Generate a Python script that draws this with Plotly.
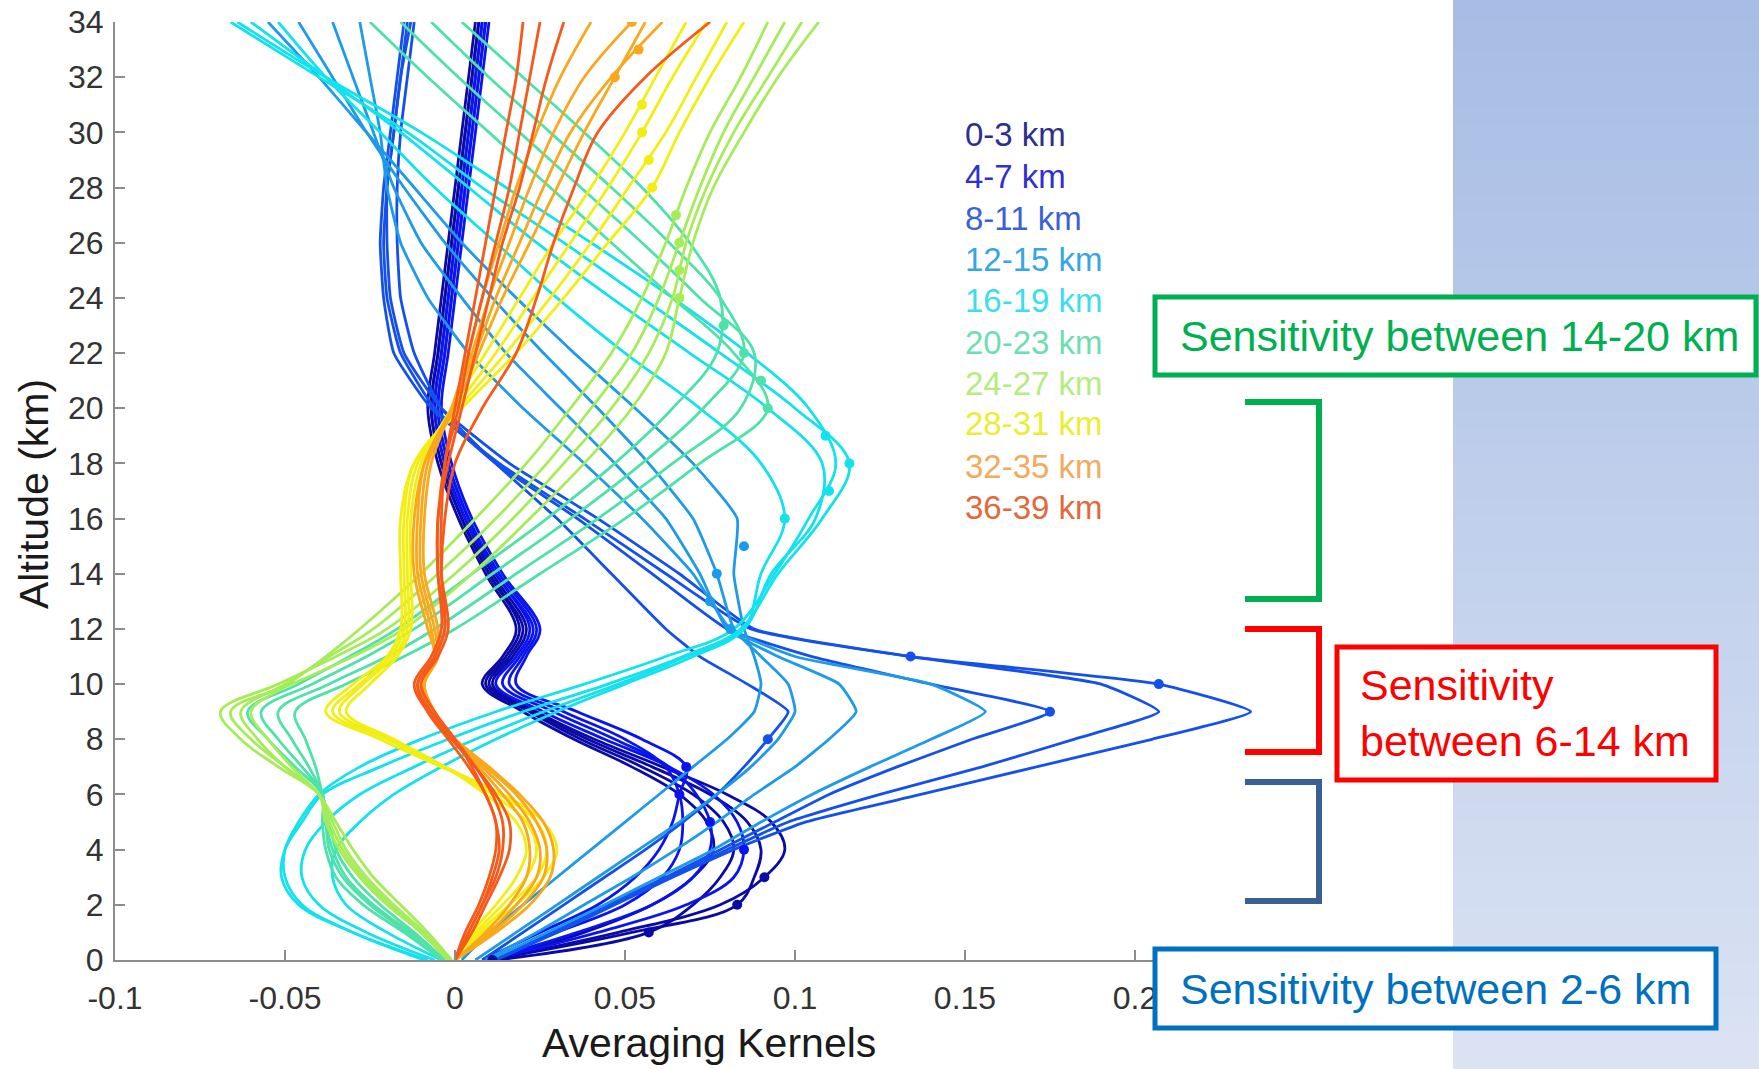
import plotly.graph_objects as go

# ---------------- data ----------------
ALT = [0, 1, 2, 3, 4, 5, 6, 7, 8, 9, 10, 11, 12, 14, 16, 18, 20, 22, 24, 26, 28, 30, 32, 34]

ak_00 = [0.011, 0.038, 0.058, 0.070, 0.076, 0.074, 0.066, 0.052, 0.035, 0.020, 0.008, 0.014, 0.018, 0.009, 0.001, -0.005, -0.008, -0.006, -0.004, -0.002, 0.000, 0.002, 0.004, 0.006]
ak_01 = [0.012, 0.057, 0.070, 0.078, 0.082, 0.079, 0.070, 0.055, 0.037, 0.022, 0.009, 0.015, 0.019, 0.010, 0.002, -0.004, -0.007, -0.005, -0.003, -0.001, 0.001, 0.003, 0.005, 0.007]
ak_02 = [0.010, 0.052, 0.083, 0.088, 0.090, 0.086, 0.075, 0.058, 0.039, 0.023, 0.010, 0.016, 0.020, 0.010, 0.002, -0.004, -0.007, -0.005, -0.003, -0.001, 0.001, 0.003, 0.005, 0.007]
ak_03 = [0.010, 0.048, 0.078, 0.091, 0.097, 0.093, 0.080, 0.061, 0.041, 0.024, 0.011, 0.017, 0.021, 0.011, 0.003, -0.003, -0.006, -0.004, -0.002, 0.000, 0.002, 0.004, 0.006, 0.008]
ak_04 = [0.010, 0.042, 0.068, 0.082, 0.085, 0.083, 0.076, 0.063, 0.044, 0.026, 0.012, 0.018, 0.022, 0.012, 0.003, -0.003, -0.006, -0.004, -0.002, 0.000, 0.002, 0.004, 0.006, 0.008]
ak_05 = [0.009, 0.036, 0.058, 0.070, 0.075, 0.075, 0.071, 0.063, 0.047, 0.029, 0.014, 0.019, 0.023, 0.012, 0.004, -0.002, -0.005, -0.003, -0.001, 0.001, 0.003, 0.005, 0.007, 0.009]
ak_06 = [0.009, 0.030, 0.050, 0.061, 0.066, 0.067, 0.066, 0.062, 0.050, 0.032, 0.016, 0.020, 0.024, 0.013, 0.004, -0.002, -0.005, -0.003, -0.001, 0.001, 0.003, 0.005, 0.007, 0.009]
ak_07 = [0.008, 0.025, 0.042, 0.053, 0.060, 0.064, 0.066, 0.068, 0.055, 0.036, 0.018, 0.021, 0.025, 0.014, 0.005, -0.001, -0.004, -0.002, 0.000, 0.002, 0.004, 0.006, 0.008, 0.010]
ak_08 = [0.008, 0.020, 0.032, 0.044, 0.056, 0.067, 0.077, 0.085, 0.092, 0.098, 0.086, 0.072, 0.062, 0.046, 0.030, 0.012, -0.004, -0.012, -0.016, -0.017, -0.017, -0.016, -0.014, -0.012]
ak_09 = [0.010, 0.028, 0.045, 0.062, 0.078, 0.094, 0.110, 0.130, 0.152, 0.175, 0.140, 0.105, 0.080, 0.058, 0.036, 0.012, -0.006, -0.016, -0.020, -0.021, -0.020, -0.018, -0.016, -0.014]
ak_10 = [0.012, 0.030, 0.047, 0.064, 0.082, 0.103, 0.137, 0.171, 0.205, 0.234, 0.207, 0.134, 0.087, 0.062, 0.038, 0.013, -0.007, -0.018, -0.021, -0.022, -0.021, -0.019, -0.017, -0.015]
ak_11 = [0.011, 0.029, 0.046, 0.063, 0.080, 0.098, 0.125, 0.155, 0.182, 0.207, 0.190, 0.134, 0.088, 0.066, 0.042, 0.016, -0.004, -0.015, -0.019, -0.020, -0.020, -0.018, -0.016, -0.013]
ak_12 = [0.010, 0.027, 0.044, 0.060, 0.076, 0.090, 0.105, 0.122, 0.140, 0.156, 0.140, 0.100, 0.081, 0.070, 0.055, 0.038, 0.020, 0.004, -0.008, -0.016, -0.020, -0.022, -0.025, -0.028]
ak_13 = [0.009, 0.024, 0.038, 0.052, 0.065, 0.077, 0.088, 0.100, 0.110, 0.118, 0.113, 0.095, 0.080, 0.072, 0.062, 0.047, 0.031, 0.015, 0.002, -0.010, -0.018, -0.024, -0.030, -0.036]
ak_14 = [0.006, 0.018, 0.030, 0.042, 0.054, 0.066, 0.077, 0.087, 0.095, 0.100, 0.098, 0.090, 0.082, 0.077, 0.070, 0.057, 0.042, 0.026, 0.011, -0.003, -0.015, -0.026, -0.036, -0.046]
ak_15 = [0.002, 0.010, 0.020, 0.030, 0.040, 0.050, 0.060, 0.070, 0.080, 0.088, 0.090, 0.088, 0.085, 0.082, 0.083, 0.070, 0.053, 0.035, 0.018, 0.002, -0.012, -0.026, -0.040, -0.055]
ak_16 = [-0.004, -0.020, -0.032, -0.036, -0.035, -0.028, -0.018, -0.004, 0.012, 0.030, 0.050, 0.070, 0.085, 0.090, 0.097, 0.090, 0.072, 0.050, 0.030, 0.012, -0.006, -0.022, -0.038, -0.052]
ak_17 = [-0.006, -0.026, -0.040, -0.045, -0.044, -0.038, -0.028, -0.012, 0.006, 0.026, 0.048, 0.068, 0.085, 0.093, 0.106, 0.108, 0.092, 0.069, 0.046, 0.024, 0.004, -0.016, -0.038, -0.060]
ak_18 = [-0.008, -0.030, -0.046, -0.051, -0.050, -0.045, -0.039, -0.022, -0.002, 0.020, 0.045, 0.067, 0.084, 0.095, 0.108, 0.116, 0.100, 0.078, 0.055, 0.032, 0.008, -0.014, -0.040, -0.066]
ak_19 = [-0.009, -0.030, -0.045, -0.050, -0.050, -0.046, -0.040, -0.028, -0.010, 0.012, 0.038, 0.062, 0.082, 0.094, 0.104, 0.112, 0.104, 0.086, 0.064, 0.040, 0.015, -0.010, -0.038, -0.064]
ak_20 = [-0.003, -0.012, -0.022, -0.030, -0.035, -0.037, -0.039, -0.041, -0.044, -0.047, -0.032, -0.015, 0.000, 0.025, 0.050, 0.072, 0.092, 0.082, 0.064, 0.046, 0.028, 0.010, -0.008, -0.025]
ak_21 = [-0.004, -0.014, -0.025, -0.033, -0.037, -0.038, -0.039, -0.043, -0.048, -0.052, -0.037, -0.020, -0.006, 0.018, 0.042, 0.064, 0.084, 0.088, 0.072, 0.055, 0.037, 0.019, 0.001, -0.016]
ak_22 = [-0.004, -0.015, -0.027, -0.035, -0.038, -0.039, -0.039, -0.045, -0.052, -0.057, -0.042, -0.026, -0.012, 0.011, 0.034, 0.055, 0.073, 0.085, 0.078, 0.063, 0.046, 0.028, 0.010, -0.007]
ak_23 = [-0.003, -0.013, -0.024, -0.032, -0.036, -0.038, -0.039, -0.047, -0.055, -0.061, -0.046, -0.031, -0.017, 0.005, 0.027, 0.047, 0.064, 0.077, 0.078, 0.069, 0.055, 0.038, 0.020, 0.002]
ak_24 = [-0.002, -0.010, -0.020, -0.028, -0.034, -0.038, -0.040, -0.050, -0.060, -0.066, -0.048, -0.030, -0.015, 0.005, 0.022, 0.038, 0.052, 0.062, 0.066, 0.070, 0.076, 0.085, 0.095, 0.107]
ak_25 = [-0.002, -0.010, -0.019, -0.027, -0.033, -0.037, -0.040, -0.052, -0.063, -0.069, -0.052, -0.035, -0.020, 0.000, 0.017, 0.032, 0.046, 0.057, 0.064, 0.068, 0.074, 0.082, 0.092, 0.102]
ak_26 = [-0.001, -0.009, -0.018, -0.026, -0.032, -0.036, -0.040, -0.050, -0.058, -0.063, -0.050, -0.037, -0.024, -0.005, 0.012, 0.027, 0.040, 0.052, 0.060, 0.066, 0.072, 0.079, 0.088, 0.097]
ak_27 = [-0.001, -0.008, -0.016, -0.024, -0.030, -0.035, -0.040, -0.048, -0.055, -0.060, -0.049, -0.038, -0.028, -0.010, 0.006, 0.021, 0.034, 0.046, 0.055, 0.062, 0.068, 0.075, 0.084, 0.092]
ak_28 = [0.000, 0.008, 0.018, 0.026, 0.030, 0.026, 0.014, -0.004, -0.022, -0.038, -0.030, -0.020, -0.016, -0.016, -0.016, -0.012, 0.002, 0.018, 0.032, 0.045, 0.058, 0.066, 0.075, 0.085]
ak_29 = [0.000, 0.007, 0.016, 0.024, 0.027, 0.024, 0.013, -0.003, -0.020, -0.036, -0.028, -0.019, -0.015, -0.015, -0.015, -0.012, 0.001, 0.015, 0.028, 0.040, 0.051, 0.062, 0.071, 0.080]
ak_30 = [0.000, 0.006, 0.014, 0.021, 0.024, 0.021, 0.011, -0.003, -0.019, -0.034, -0.027, -0.018, -0.014, -0.014, -0.014, -0.011, 0.000, 0.012, 0.023, 0.034, 0.045, 0.055, 0.064, 0.074]
ak_31 = [0.000, 0.005, 0.012, 0.018, 0.021, 0.018, 0.009, -0.003, -0.018, -0.032, -0.025, -0.017, -0.013, -0.013, -0.013, -0.010, -0.001, 0.009, 0.019, 0.029, 0.040, 0.050, 0.059, 0.068]
ak_32 = [0.000, 0.012, 0.022, 0.028, 0.029, 0.026, 0.019, 0.010, 0.000, -0.008, -0.010, -0.006, -0.008, -0.012, -0.012, -0.009, 0.000, 0.007, 0.014, 0.022, 0.030, 0.038, 0.047, 0.056]
ak_33 = [0.000, 0.011, 0.020, 0.026, 0.027, 0.024, 0.018, 0.009, 0.000, -0.007, -0.010, -0.006, -0.007, -0.011, -0.011, -0.009, -0.001, 0.006, 0.012, 0.019, 0.026, 0.034, 0.046, 0.061]
ak_34 = [0.000, 0.010, 0.018, 0.024, 0.025, 0.022, 0.016, 0.008, 0.000, -0.007, -0.009, -0.005, -0.006, -0.010, -0.010, -0.008, -0.001, 0.005, 0.010, 0.016, 0.022, 0.029, 0.038, 0.052]
ak_35 = [0.000, 0.009, 0.016, 0.021, 0.022, 0.020, 0.014, 0.007, 0.000, -0.006, -0.009, -0.005, -0.005, -0.009, -0.009, -0.007, -0.001, 0.004, 0.008, 0.013, 0.018, 0.024, 0.031, 0.040]
ak_36 = [0.000, 0.003, 0.007, 0.010, 0.012, 0.012, 0.009, 0.005, 0.000, -0.006, -0.010, -0.005, -0.002, -0.004, -0.004, -0.003, 0.000, 0.003, 0.006, 0.009, 0.012, 0.015, 0.018, 0.020]
ak_37 = [0.000, 0.004, 0.008, 0.012, 0.014, 0.014, 0.011, 0.006, 0.000, -0.007, -0.011, -0.006, -0.003, -0.005, -0.005, -0.003, 0.001, 0.004, 0.008, 0.012, 0.016, 0.019, 0.022, 0.025]
ak_38 = [0.000, 0.005, 0.009, 0.013, 0.016, 0.016, 0.012, 0.006, -0.001, -0.008, -0.012, -0.007, -0.004, -0.005, -0.005, -0.002, 0.002, 0.006, 0.010, 0.014, 0.019, 0.023, 0.027, 0.032]
ak_39 = [0.000, 0.004, 0.008, 0.011, 0.013, 0.012, 0.009, 0.004, -0.002, -0.008, -0.011, -0.006, -0.003, -0.004, -0.003, 0.000, 0.008, 0.018, 0.024, 0.029, 0.035, 0.042, 0.056, 0.075]

# value of each kernel at its own retrieval level (dots), levels 0..34
DOT_LEVEL = list(range(35))
DOT_X = [0.011, 0.057, 0.083, 0.091, 0.085, 0.075, 0.066, 0.068, 0.092, 0.175,
         0.207, 0.134, 0.081, 0.075, 0.077, 0.085, 0.097, 0.110, 0.116, 0.109,
         0.092, 0.090, 0.085, 0.079, 0.066, 0.066, 0.066, 0.065, 0.058, 0.057,
         0.055, 0.055, 0.047, 0.054, 0.052]

GROUP_LABELS = ["0-3 km", "4-7 km", "8-11 km", "12-15 km", "16-19 km",
                "20-23 km", "24-27 km", "28-31 km", "32-35 km", "36-39 km"]

X_TICKS = [-0.1, -0.05, 0, 0.05, 0.1, 0.15, 0.2, 0.25]
X_TICK_TEXT = ["-0.1", "-0.05", "0", "0.05", "0.1", "0.15", "0.2", ""]  # 0.25 hidden by the box
Y_TICKS = list(range(0, 35, 2))

NOTE_TOP = "Sensitivity between 14-20 km"
NOTE_MID = "Sensitivity<br>between 6-14 km"
NOTE_LOW = "Sensitivity between 2-6 km"

# ---------------- styling ----------------
LINE_COLORS = ["#0A0AA6", "#0A14F0", "#1450EC", "#1E9AEA", "#12E2EE",
               "#4EE2AA", "#A6EC58", "#F2EE12", "#F9A81C", "#F65A1A"]
TEXT_COLORS = ["#2E2E92", "#2F2FD2", "#3A62D6", "#36A6E6", "#3CDDEE",
               "#6EDDB2", "#B4EC80", "#EAEE2E", "#F2AA5C", "#E26A3A"]

KERNELS = [ak_00, ak_01, ak_02, ak_03, ak_04, ak_05, ak_06, ak_07, ak_08, ak_09,
           ak_10, ak_11, ak_12, ak_13, ak_14, ak_15, ak_16, ak_17, ak_18, ak_19,
           ak_20, ak_21, ak_22, ak_23, ak_24, ak_25, ak_26, ak_27, ak_28, ak_29,
           ak_30, ak_31, ak_32, ak_33, ak_34, ak_35, ak_36, ak_37, ak_38, ak_39]

W, H = 1759, 1069
FONT = "Liberation Sans, Arial, Helvetica, sans-serif"


def px(xp):
    return xp / W


def py(yp):
    return 1 - yp / H


fig = go.Figure()

for lev, ak in enumerate(KERNELS):
    g = lev // 4
    sharp = g in (2, 3)
    fig.add_trace(go.Scatter(
        x=ak, y=ALT, mode="lines",
        line=dict(color=LINE_COLORS[g], width=2.8,
                  shape="spline", smoothing=0.45 if sharp else 1.0),
        showlegend=False, hoverinfo="skip"))

fig.add_trace(go.Scatter(
    x=DOT_X, y=DOT_LEVEL, mode="markers",
    marker=dict(size=10, color=[LINE_COLORS[l // 4] for l in DOT_LEVEL]),
    showlegend=False, hoverinfo="skip"))

shapes = []
# right-hand gradient panel
top_rgb = (167, 189, 229)
bot_rgb = (219, 227, 243)
nb = 60
for i in range(nb):
    t = i / (nb - 1)
    c = tuple(round(a + (b - a) * t) for a, b in zip(top_rgb, bot_rgb))
    shapes.append(dict(type="rect", xref="paper", yref="paper",
                       x0=px(1453), x1=1.0,
                       y0=py(H * (i + 1) / nb) - 0.001, y1=py(H * i / nb),
                       fillcolor="rgb(%d,%d,%d)" % c, line=dict(width=0),
                       layer="below"))


def box(x0, y0, x1, y1, color):
    shapes.append(dict(type="rect", xref="paper", yref="paper",
                       x0=px(x0), y0=py(y1), x1=px(x1), y1=py(y0),
                       fillcolor="white", line=dict(color=color, width=5),
                       layer="above"))


def bracket(y0, y1, color):
    x0, x1 = px(1245), px(1319)
    path = "M %f,%f L %f,%f L %f,%f L %f,%f" % (x0, py(y0), x1, py(y0), x1, py(y1), x0, py(y1))
    shapes.append(dict(type="path", xref="paper", yref="paper", path=path,
                       line=dict(color=color, width=6), layer="above"))


box(1155, 297, 1756, 375, "#00B050")
box(1337, 647, 1716, 780, "#FF0000")
box(1155, 949, 1716, 1028, "#0070C0")
bracket(402, 599, "#00B050")
bracket(629, 752, "#FF0000")
bracket(782, 901, "#3A5F94")

annotations = []
legend_y = [135, 176, 218, 259, 301, 342, 383, 424, 466, 507]
for lab, col, yy in zip(GROUP_LABELS, TEXT_COLORS, legend_y):
    annotations.append(dict(text=lab, xref="paper", yref="paper", x=px(963), y=py(yy),
                            xanchor="left", yanchor="middle", showarrow=False,
                            font=dict(family=FONT, size=33, color=col)))

annotations.append(dict(text=NOTE_TOP, xref="paper", yref="paper", x=px(1178), y=py(336),
                        xanchor="left", yanchor="middle", showarrow=False,
                        font=dict(family=FONT, size=43, color="#00B050")))
annotations.append(dict(text=NOTE_MID, xref="paper", yref="paper", x=px(1358), y=py(713),
                        xanchor="left", yanchor="middle", showarrow=False, align="left",
                        font=dict(family=FONT, size=43, color="#FF0000")))
annotations.append(dict(text=NOTE_LOW, xref="paper", yref="paper", x=px(1178), y=py(989),
                        xanchor="left", yanchor="middle", showarrow=False,
                        font=dict(family=FONT, size=43, color="#0070C0")))
annotations.append(dict(text="Altitude (km)", xref="paper", yref="paper", x=px(34), y=py(494),
                        xanchor="center", yanchor="middle", textangle=-90, showarrow=False,
                        font=dict(family=FONT, size=41, color="#1a1a1a")))
annotations.append(dict(text="Averaging Kernels", xref="paper", yref="paper", x=px(709), y=py(1043),
                        xanchor="center", yanchor="middle", showarrow=False,
                        font=dict(family=FONT, size=41, color="#1a1a1a")))

axis_common = dict(showgrid=False, zeroline=False, showline=True, linecolor="#8c8c8c",
                   linewidth=2, ticks="inside", ticklen=10, tickwidth=2, tickcolor="#8c8c8c",
                   automargin=False,
                   tickfont=dict(family=FONT, size=32, color="#333333"))

fig.update_layout(
    template="none",
    width=W, height=H,
    margin=dict(l=0, r=0, t=0, b=0, pad=0),
    paper_bgcolor="white", plot_bgcolor="rgba(0,0,0,0)",
    xaxis=dict(range=[-0.1, 0.25], domain=[px(115), px(1305)],
               tickvals=X_TICKS, ticktext=X_TICK_TEXT, ticklabelstandoff=9, **axis_common),
    yaxis=dict(range=[0, 34], domain=[py(960), py(22)],
               tickvals=Y_TICKS, ticklabelstandoff=3, **axis_common),
    shapes=shapes, annotations=annotations, showlegend=False,
)

fig.write_html("out.html", config={"displayModeBar": False},
               post_script="document.body.style.margin='0px';document.body.style.overflow='hidden';")
